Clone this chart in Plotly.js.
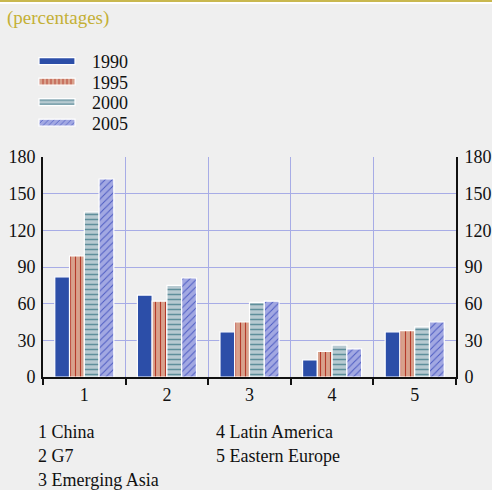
<!DOCTYPE html>
<html>
<head>
<meta charset="utf-8">
<script src="https://cdn.plot.ly/plotly-3.0.1.min.js"></script>
<style>
html,body{margin:0;padding:0;background:#efefef;}
#topline{position:absolute;left:0;top:0;width:492px;height:2px;background:#c9b84f;border-bottom:2px solid #ffffff;z-index:5;}
#chart{width:492px;height:490px;}
</style>
</head>
<body>
<div id="topline"></div>
<div id="chart"></div>
<script>
const categories = ["1", "2", "3", "4", "5"];
const regionNames = ["1 China", "2 G7", "3 Emerging Asia", "4 Latin America", "5 Eastern Europe"];
const years = ["1990", "1995", "2000", "2005"];
const v1990 = [82, 67, 37, 14, 37];
const v1995 = [99, 62, 45, 21, 38];
const v2000 = [135, 75, 61, 26, 41];
const v2005 = [162, 81, 62, 23, 45];
const yTicks = [0, 30, 60, 90, 120, 150, 180];

const FONT = "Liberation Serif";
const styles = [
  {color: "#2c4ea8", pattern: {shape: ""}},
  {color: "#d8a18c", pattern: {shape: "|", fgcolor: "#b53a2a", bgcolor: "#d8a18c", size: 5, solidity: 0.22}},
  {color: "#b7cad1", pattern: {shape: "-", fgcolor: "#5f8f9b", bgcolor: "#b7cad1", size: 5, solidity: 0.3}},
  {color: "#a2a8e2", pattern: {shape: "/", fgcolor: "#4d5cc2", bgcolor: "#a2a8e2", size: 5, solidity: 0.2}}
];
const series = [v1990, v1995, v2000, v2005];

const traces = series.map((vals, i) => ({
  type: "bar",
  name: years[i],
  x: categories,
  y: vals,
  marker: {color: styles[i].color, pattern: styles[i].pattern, line: {color: "#ffffff", width: 1.2}},
  hoverinfo: "skip"
}));
traces.push({type: "scatter", x: [categories[0]], y: [null], yaxis: "y2", showlegend: false, hoverinfo: "skip"});

const annotations = regionNames.map((t, i) => ({
  text: t,
  xref: "paper", yref: "paper",
  x: i < 3 ? (36 - 43) / 413 : (214 - 43) / 413,
  y: (377 - (432 + (i % 3) * 24)) / 220,
  xanchor: "left", yanchor: "middle",
  showarrow: false,
  font: {family: FONT, size: 18, color: "#111"}
}));

const layout = {
  width: 492, height: 490,
  font: {family: FONT, size: 18, color: "#111"},
  margin: {l: 43, r: 36, t: 157, b: 113},
  paper_bgcolor: "#efefef",
  plot_bgcolor: "#efefef",
  title: {text: "(percentages)", xref: "container", yref: "container", x: 7/492, xanchor: "left", y: 1 - 17/490, yanchor: "middle",
          font: {family: FONT, size: 19, color: "#c4b036"}},
  barmode: "group",
  bargap: 0.285,
  bargroupgap: 0,
  showlegend: true,
  legend: {x: (22 - 43) / 413, xanchor: "left", y: (377 - 43) / 220, yanchor: "top",
           font: {family: FONT, size: 18, color: "#111"}, bgcolor: "rgba(0,0,0,0)", tracegroupgap: 0, itemwidth: 60},
  xaxis: {type: "category", tickson: "boundaries", showgrid: true, gridcolor: "#a7ace6", gridwidth: 1,
          ticks: "outside", ticklen: 6, tickwidth: 2, tickcolor: "#111",
          showline: true, linecolor: "#111", linewidth: 2,
          tickfont: {family: FONT, size: 18, color: "#111"}, zeroline: false, fixedrange: true},
  yaxis: {range: [0, 180], tickvals: yTicks, showgrid: true, gridcolor: "#a7ace6", gridwidth: 1,
          showline: true, linecolor: "#111", linewidth: 2, ticks: "", zeroline: false, ticklabelstandoff: 2,
          tickfont: {family: FONT, size: 18, color: "#111"}, fixedrange: true},
  yaxis2: {range: [0, 180], tickvals: yTicks, overlaying: "y", side: "right", showgrid: false,
           showline: true, linecolor: "#111", linewidth: 2, ticks: "", zeroline: false, ticklabelstandoff: 3,
           tickfont: {family: FONT, size: 18, color: "#111"}, fixedrange: true},
  annotations: annotations
};

Plotly.newPlot("chart", traces, layout, {displayModeBar: false, staticPlot: true}).then(gd => {
  const groups = gd.querySelectorAll(".legend .traces");
  let y0 = null;
  groups.forEach((g, i) => {
    const m = /translate\(([-\d.]+),\s*([-\d.]+)\)/.exec(g.getAttribute("transform") || "");
    if (!m) return;
    const x = parseFloat(m[1]);
    if (y0 === null) y0 = parseFloat(m[2]);
    g.setAttribute("transform", "translate(" + x + "," + (y0 + i * 20.5) + ")");
    g.querySelectorAll(".legendpoints path").forEach(p => {
      p.setAttribute("d", "M18,3.5H-18V-3.5H18Z");
    });
  });
});
</script>
</body>
</html>
